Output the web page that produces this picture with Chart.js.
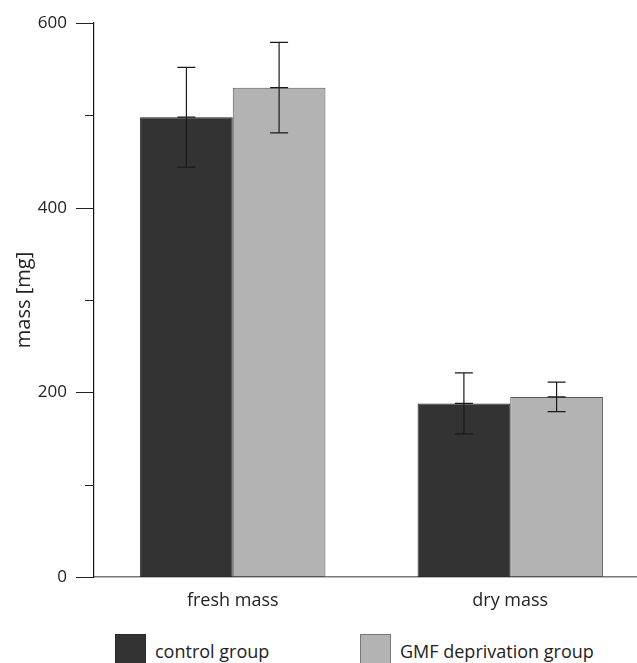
<!DOCTYPE html>
<html>
<head>
<meta charset="utf-8">
<script src="https://cdn.jsdelivr.net/npm/chart.js@4"></script>
<style>
  html, body { margin: 0; padding: 0; background: #fff; overflow: hidden; }
  #wrap { position: relative; width: 649px; height: 663px; }
  .lg { position: absolute; font: 18px "Open Sans", sans-serif; color: #222; }
  .box { position: absolute; top: 634px; width: 31px; height: 32px; box-sizing: border-box; border: 1px solid #444; }
</style>
</head>
<body>
<div id="wrap">
  <canvas id="massChart" width="649" height="625"></canvas>
  <div class="box" style="left:115px; background:#333333; border-color:#2a2a2a;"></div>
  <div class="lg" style="left:155px; top:639px;">control group</div>
  <div class="box" style="left:360px; background:#b3b3b3; border-color:#777;"></div>
  <div class="lg" style="left:400px; top:639px;">GMF deprivation group</div>
</div>
<script>
// data
var categories = ['fresh mass', 'dry mass'];
var controlMean = [498, 188];
var controlErr = [54, 33];
var gmfMean = [530, 195];
var gmfErr = [49, 16];
var yTicks = [0, 200, 400, 600];

var errBars = {
    id: 'errBars',
    afterDatasetsDraw: function(chart) {
        var ctx = chart.ctx;
        var y = chart.scales.y;
        var errs = [controlErr, gmfErr];
        ctx.save();
        ctx.strokeStyle = '#1a1a1a';
        ctx.lineWidth = 1.2;
        chart.data.datasets.forEach(function(ds, i) {
            var meta = chart.getDatasetMeta(i);
            meta.data.forEach(function(bar, j) {
                var v = ds.data[j], e = errs[i][j];
                var top = y.getPixelForValue(v + e);
                var bot = y.getPixelForValue(v - e);
                var mid = y.getPixelForValue(v);
                var x = bar.x, w = 9;
                ctx.beginPath();
                ctx.moveTo(x, top); ctx.lineTo(x, bot);
                ctx.moveTo(x - w, top); ctx.lineTo(x + w, top);
                ctx.moveTo(x - w, bot); ctx.lineTo(x + w, bot);
                ctx.moveTo(x - w, mid); ctx.lineTo(x + w, mid);
                ctx.stroke();
            });
        });
        ctx.restore();
    },
    afterDraw: function(chart) {
        // y tick marks: long at labelled values, short in between
        var ctx = chart.ctx;
        var y = chart.scales.y;
        var left = chart.chartArea.left;
        ctx.save();
        ctx.strokeStyle = '#222';
        ctx.lineWidth = 1;
        y.ticks.forEach(function(t) {
            var py = Math.round(y.getPixelForValue(t.value)) + 0.5;
            var len = yTicks.indexOf(t.value) >= 0 ? 18 : 9;
            ctx.beginPath();
            ctx.moveTo(left - len, py);
            ctx.lineTo(left, py);
            ctx.stroke();
        });
        ctx.restore();
    }
};

document.addEventListener('DOMContentLoaded', function() {
    var ctx = document.getElementById('massChart').getContext('2d');
    new Chart(ctx, {
        type: 'bar',
        data: {
            labels: categories,
            datasets: [
                {
                    label: 'control group',
                    data: controlMean,
                    backgroundColor: '#333333',
                    borderColor: '#2a2a2a',
                    borderWidth: 1,
                    borderSkipped: false
                },
                {
                    label: 'GMF deprivation group',
                    data: gmfMean,
                    backgroundColor: '#b3b3b3',
                    borderColor: '#555555',
                    borderWidth: 1,
                    borderSkipped: false
                }
            ]
        },
        options: {
            responsive: false,
            animation: false,
            layout: { padding: { top: 23, bottom: 15, left: 0, right: 0 } },
            categoryPercentage: 0.668,
            barPercentage: 1,
            plugins: {
                legend: { display: false },
                tooltip: { enabled: false }
            },
            scales: {
                x: {
                    grid: { display: false, drawTicks: false },
                    border: { display: true, color: '#777', width: 1.5 },
                    ticks: {
                        padding: 13,
                        color: '#222',
                        font: { family: 'Open Sans', size: 18 }
                    },
                    afterFit: function(s) { s.height = 33; s.paddingLeft = 0; s.paddingRight = 0; }
                },
                y: {
                    min: 0,
                    max: 600,
                    grid: { display: false, drawTicks: false },
                    border: { display: true, color: '#111', width: 1.2 },
                    ticks: {
                        stepSize: 100,
                        padding: 27,
                        color: '#222',
                        font: { family: 'Open Sans', size: 17 },
                        callback: function(v) { return yTicks.indexOf(v) >= 0 ? v : ''; }
                    },
                    title: {
                        display: true,
                        text: 'mass [mg]',
                        color: '#222',
                        padding: { top: 12, bottom: 0 },
                        font: { family: 'Open Sans', size: 20 }
                    },
                    afterFit: function(s) { s.width = 94; s.paddingTop = 0; s.paddingBottom = 0; }
                }
            }
        },
        plugins: [errBars]
    });
});
</script>
</body>
</html>
